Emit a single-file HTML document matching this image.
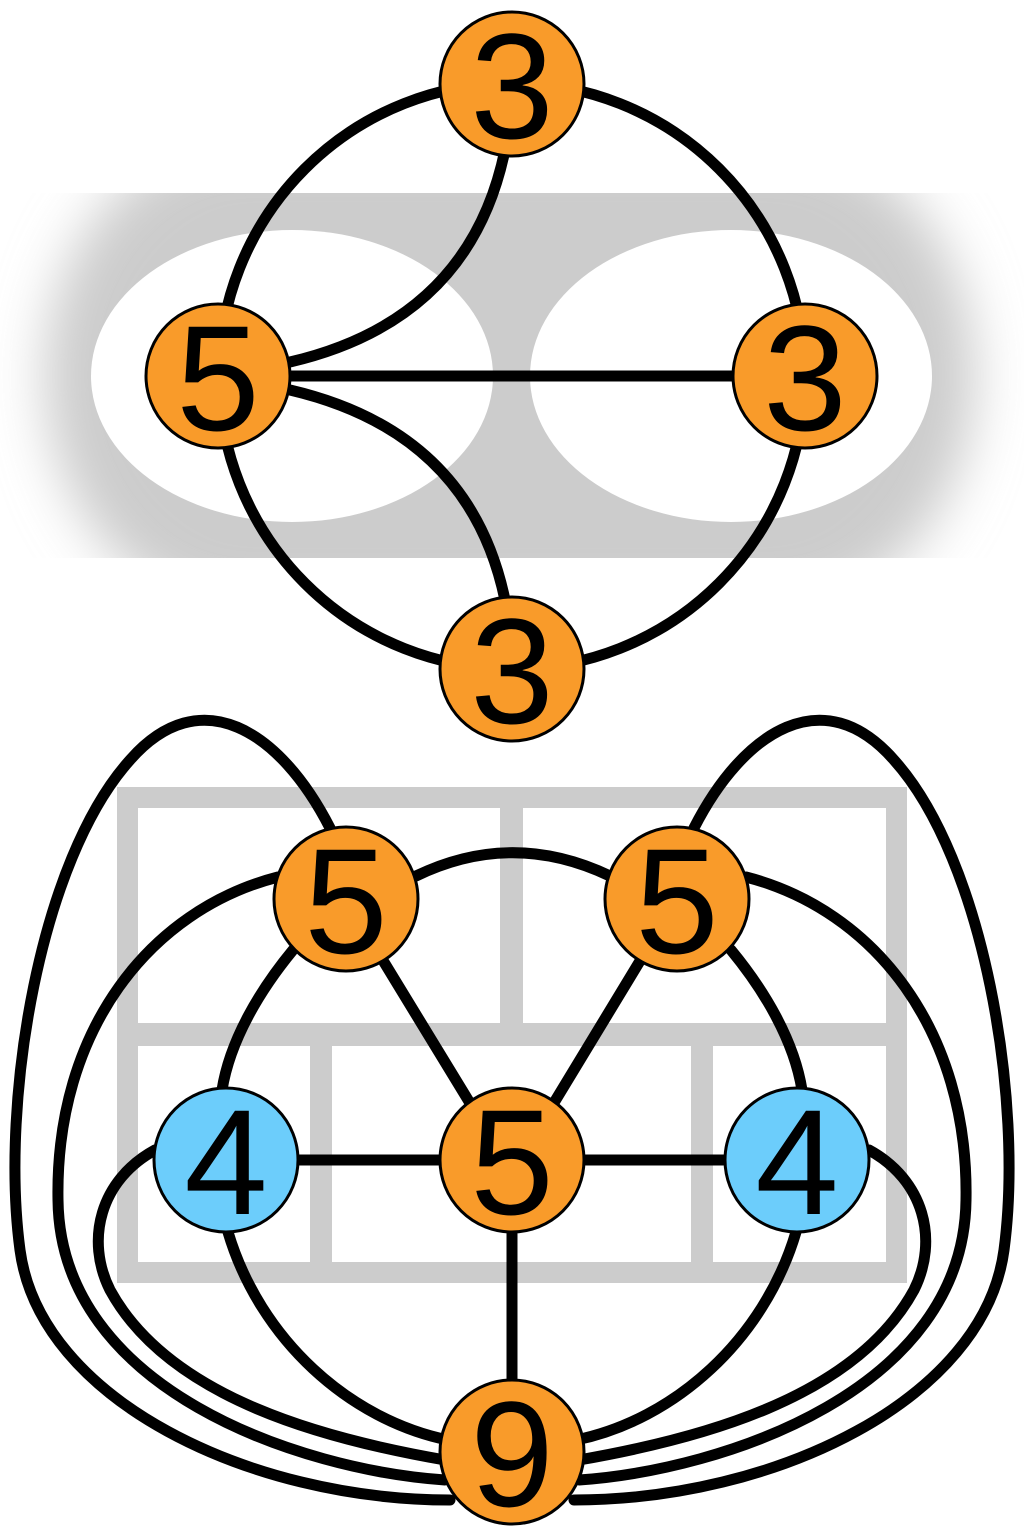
<!DOCTYPE html>
<html><head><meta charset="utf-8"><style>html,body{margin:0;padding:0;background:#fff}svg{display:block}</style></head>
<body>
<svg width="1024" height="1536" viewBox="0 0 1024 1536" xmlns="http://www.w3.org/2000/svg">
<defs>
<filter id="bl" x="-20%" y="-50%" width="140%" height="200%"><feGaussianBlur stdDeviation="26"/></filter>
<clipPath id="band"><rect x="0" y="193" width="1024" height="365"/></clipPath>
</defs>
<g clip-path="url(#band)">
<rect x="45" y="140" width="930" height="470" rx="200" ry="235" fill="#ccc" filter="url(#bl)"/>
</g>
<ellipse cx="292" cy="376" rx="201" ry="146" fill="#fff"/>
<ellipse cx="731" cy="376" rx="201" ry="146" fill="#fff"/>
<rect x="117" y="787" width="790" height="496" fill="#ccc"/>
<rect x="138" y="808" width="362" height="215" fill="#fff"/>
<rect x="523" y="808" width="363" height="215" fill="#fff"/>
<rect x="138" y="1046" width="172" height="216" fill="#fff"/>
<rect x="332" y="1046" width="359" height="216" fill="#fff"/>
<rect x="713" y="1046" width="173" height="216" fill="#fff"/>
<g fill="none" stroke="#000" stroke-width="11" stroke-linecap="round">
<circle cx="512" cy="376" r="293"/>
<line x1="218" y1="376" x2="805" y2="376"/>
<path d="M290,362 Q470,320 505,150"/>
<path d="M290,390 Q470,432 505,600"/>
<line x1="340" y1="890" x2="512" y2="1172"/>
<line x1="683" y1="890" x2="512" y2="1172"/>
<line x1="226" y1="1160" x2="797" y2="1160"/>
<line x1="512" y1="1160" x2="512" y2="1452"/>
<path d="M416,876 C480,845 545,845 610,876"/>
<path d="M293,950 C260,990 230,1040 222,1090"/>
<path d="M731,950 C764,990 794,1040 802,1090"/>
<path d="M228,1232 C260,1340 350,1420 448,1440"/>
<path d="M796,1232 C764,1340 674,1420 576,1440"/>
<path d="M155,1150 C100,1180 85,1240 110,1290 C170,1400 330,1440 445,1460"/>
<path d="M869,1150 C924,1180 939,1240 914,1290 C854,1400 694,1440 579,1460"/>
<path d="M278,877 C150,910 55,1030 58,1200 C60,1390 300,1470 445,1480"/>
<path d="M746,877 C874,910 969,1030 966,1200 C964,1390 724,1470 579,1480"/>
<path d="M330,828 C280,730 200,680 130,760 C40,860 0,1100 20,1250 C40,1400 250,1500 450,1500"/>
<path d="M694,828 C744,730 824,680 894,760 C984,860 1024,1100 1004,1250 C984,1400 774,1500 574,1500"/>
</g>
<g stroke="#000" stroke-width="3" font-family="'Liberation Sans',sans-serif" font-size="150" text-anchor="middle">
<circle cx="512" cy="84" r="72" fill="#f99b2a"/>
<circle cx="218" cy="376" r="72" fill="#f99b2a"/>
<circle cx="805" cy="376" r="72" fill="#f99b2a"/>
<circle cx="512" cy="669" r="72" fill="#f99b2a"/>
<circle cx="346" cy="899" r="72" fill="#f99b2a"/>
<circle cx="677" cy="899" r="72" fill="#f99b2a"/>
<circle cx="226" cy="1160" r="72" fill="#6ccdfb"/>
<circle cx="512" cy="1160" r="72" fill="#f99b2a"/>
<circle cx="797" cy="1160" r="72" fill="#6ccdfb"/>
<circle cx="512" cy="1452" r="72" fill="#f99b2a"/>
<g stroke="none" fill="#000">
<text x="512" y="138">3</text>
<text x="218" y="430">5</text>
<text x="805" y="430">3</text>
<text x="512" y="723">3</text>
<text x="346" y="953">5</text>
<text x="677" y="953">5</text>
<text x="226" y="1214">4</text>
<text x="512" y="1214">5</text>
<text x="797" y="1214">4</text>
<text x="512" y="1506">9</text>
</g>
</g>
</svg>
</body></html>
